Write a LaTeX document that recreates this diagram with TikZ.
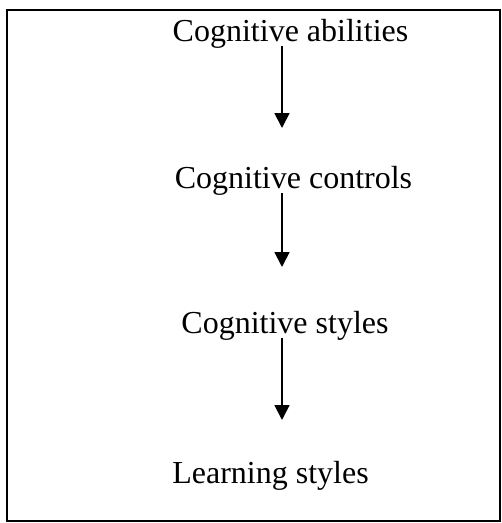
\documentclass[tikz,border=0pt]{standalone}
\usepackage{fontspec}
\setmainfont{Liberation Serif}
\usetikzlibrary{arrows.meta}
\usetikzlibrary{positioning}

\begin{document}
\begin{tikzpicture}[
	x=1pt,
	y=-1pt,
	font=\fontsize{32}{38}\selectfont
]
\tikzset{
    mynode/.style = {anchor=base, inner sep=0pt},
    edgea/.style = {-{Triangle[length=15pt,width=15pt]}, line width=1.8pt},
    framebox/.style = {line width=2pt},
}
\useasboundingbox (0,0) rectangle (502,523);
\draw[framebox] (7,10) rectangle (500,521);
%
\node[mynode] at (290.5,41) (abil) {Cognitive abilities};
\node[mynode] at (293.5,188) (ctrl) {Cognitive controls};
\node[mynode] at (285,333) (cstyle) {Cognitive styles};
\node[mynode] at (270.5,483) (lstyle) {Learning styles};
%
\coordinate (t1) at (282,128);
\coordinate (t2) at (282,267);
\coordinate (t3) at (282,420);
%
\draw[edgea] ([yshift=-4.5pt]abil.base -| t1) -- (t1);
\draw[edgea] ([yshift=-5pt]ctrl.base -| t2) -- (t2);
\draw[edgea] ([yshift=-4.5pt]cstyle.base -| t3) -- (t3);
\end{tikzpicture}
\end{document}
